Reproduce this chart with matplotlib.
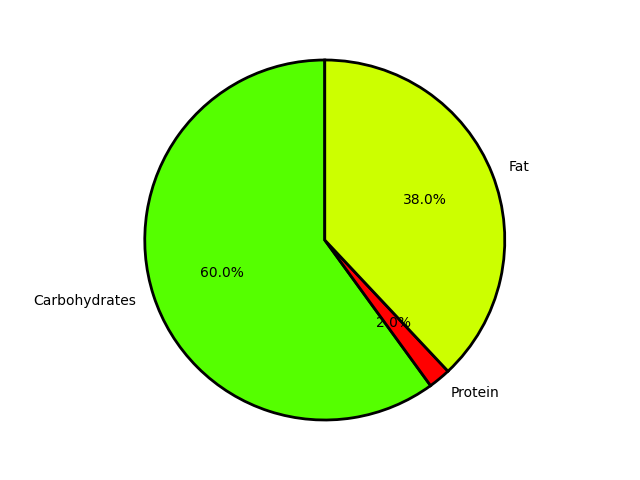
import matplotlib
matplotlib.use("Agg")
import matplotlib.pyplot as plt

labels = ["Carbohydrates", "Protein", "Fat"]
values = [60, 2, 38]
colors = ["#55ff00", "#ff0000", "#ccff00"]

fig, ax = plt.subplots(figsize=(6.4, 4.8), dpi=100)
ax.pie(values, labels=labels, colors=colors, autopct="%1.1f%%", startangle=90,
       wedgeprops={"edgecolor": "black", "linewidth": 2})
fig.tight_layout()
fig.savefig("out.png")
